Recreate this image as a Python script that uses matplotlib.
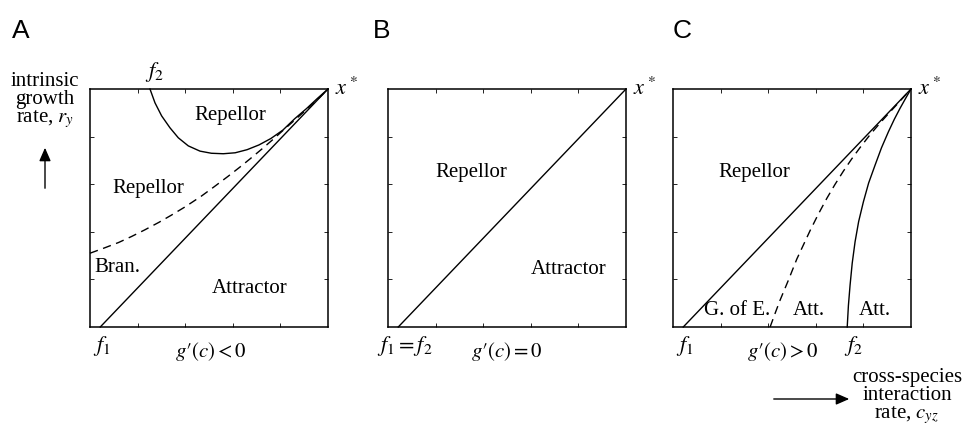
import numpy as np
import matplotlib
matplotlib.use("Agg")
import matplotlib.pyplot as plt
from matplotlib.patches import FancyArrowPatch

plt.rcParams['font.family'] = ['Liberation Serif', 'DejaVu Serif']
plt.rcParams['mathtext.fontset'] = 'stix'

# boundary curves, in units of the square (0..1 on both axes)
f1 = 0.043
diag_x = [f1, 1.0]
diag_y = [0.0, 1.0]

# panel A: g'(c) < 0
a_upper_x = [0.252, 0.273, 0.301, 0.336, 0.371, 0.413, 0.462, 0.51, 0.56,
             0.61, 0.66, 0.71, 0.76, 0.81, 0.86, 0.91, 0.955, 1.0]
a_upper_y = [1.0, 0.942, 0.887, 0.837, 0.795, 0.761, 0.739, 0.73, 0.728,
             0.732, 0.745, 0.765, 0.792, 0.827, 0.875, 0.918, 0.96, 1.0]
a_dash_x = [0.0, 0.06, 0.12, 0.174, 0.23, 0.29, 0.342, 0.4, 0.468, 0.52, 0.58,
            0.63, 0.672, 0.72, 0.77, 0.81, 0.854, 0.9, 0.938, 0.97, 1.0]
a_dash_y = [0.31, 0.332, 0.355, 0.38, 0.408, 0.44, 0.47, 0.505, 0.55, 0.588,
            0.633, 0.672, 0.706, 0.746, 0.789, 0.825, 0.864, 0.905, 0.94,
            0.97, 1.0]

# panel C: g'(c) > 0
c_dash_x = [0.408, 0.43, 0.45, 0.485, 0.52, 0.548, 0.576, 0.61, 0.646, 0.68,
            0.716, 0.75, 0.786, 0.828, 0.87, 0.905, 0.94, 0.97, 1.0]
c_dash_y = [0.0, 0.06, 0.113, 0.197, 0.285, 0.345, 0.405, 0.473, 0.54, 0.598,
            0.655, 0.705, 0.754, 0.808, 0.857, 0.896, 0.934, 0.967, 1.0]
c_solid_x = [0.732, 0.737, 0.744, 0.753, 0.765, 0.78, 0.80, 0.822, 0.849,
             0.876, 0.905, 0.93, 0.954, 0.977, 1.0]
c_solid_y = [0.0, 0.09, 0.176, 0.268, 0.358, 0.443, 0.526, 0.605, 0.68,
             0.753, 0.82, 0.873, 0.919, 0.96, 1.0]

W, H = 968, 433
fig = plt.figure(figsize=(W / 100, H / 100), dpi=100)


def px(x, y):
    return x / W, 1 - y / H


def box(left):
    ax = fig.add_axes([left / W, (H - 327) / H, 238 / W, 238 / H])
    ax.set_xlim(0, 1)
    ax.set_ylim(0, 1)
    t = [0.2, 0.4, 0.6, 0.8]
    ax.set_xticks(t)
    ax.set_yticks(t)
    ax.tick_params(direction='in', length=3, width=0.6, top=True, right=True,
                   labelbottom=False, labelleft=False)
    for s in ax.spines.values():
        s.set_linewidth(1.1)
    return ax


fs = 15
ms = 16
kw = dict(color='black', lw=1.0, clip_on=False)
dash = (0, (6, 4))

# A
ax = box(90)
ax.plot(diag_x, diag_y, **kw)
ax.plot(a_upper_x, a_upper_y, **kw)
ax.plot(a_dash_x, a_dash_y, ls=dash, **kw)
ax.text(0.59, 0.89, 'Repellor', fontsize=fs, ha='center', va='center')
ax.text(0.245, 0.58, 'Repellor', fontsize=fs, ha='center', va='center')
ax.text(0.115, 0.248, 'Bran.', fontsize=fs, ha='center', va='center')
ax.text(0.67, 0.16, 'Attractor', fontsize=fs, ha='center', va='center')
ax.text(0.27, 1.07, r'$f_2$', fontsize=ms, ha='center', va='center')
ax.text(1.03, 1.0, r'$x^*$', fontsize=ms, ha='left', va='center')
ax.text(0.05, -0.08, r'$f_1$', fontsize=ms, ha='center', va='center')
ax.text(0.51, -0.105, r"$g′(c) < 0$", fontsize=fs, ha='center', va='center')

# B
ax = box(388)
ax.plot(diag_x, diag_y, **kw)
ax.text(0.35, 0.65, 'Repellor', fontsize=fs, ha='center', va='center')
ax.text(0.76, 0.24, 'Attractor', fontsize=fs, ha='center', va='center')
ax.text(1.03, 1.0, r'$x^*$', fontsize=ms, ha='left', va='center')
ax.text(0.07, -0.08, r'$f_1 = f_2$', fontsize=ms, ha='center', va='center')
ax.text(0.50, -0.105, r"$g′(c) = 0$", fontsize=fs, ha='center', va='center')

# C
ax = box(673)
ax.plot(diag_x, diag_y, **kw)
ax.plot(c_solid_x, c_solid_y, **kw)
ax.plot(c_dash_x, c_dash_y, ls=dash, **kw)
ax.text(0.34, 0.65, 'Repellor', fontsize=fs, ha='center', va='center')
ax.text(0.27, 0.07, 'G. of E.', fontsize=fs, ha='center', va='center')
ax.text(0.57, 0.07, 'Att.', fontsize=fs, ha='center', va='center')
ax.text(0.85, 0.07, 'Att.', fontsize=fs, ha='center', va='center')
ax.text(1.03, 1.0, r'$x^*$', fontsize=ms, ha='left', va='center')
ax.text(0.05, -0.08, r'$f_1$', fontsize=ms, ha='center', va='center')
ax.text(0.46, -0.105, r"$g′(c) > 0$", fontsize=fs, ha='center', va='center')
ax.text(0.76, -0.08, r'$f_2$', fontsize=ms, ha='center', va='center')

# panel letters
for lab, x in [('A', 12), ('B', 373), ('C', 673)]:
    fig.text(*px(x, 31), lab, fontsize=19, family='Liberation Sans',
             ha='left', va='center')

# axis descriptions with arrows
fig.text(*px(45, 101), 'intrinsic\ngrowth\nrate, $r_y$', fontsize=fs,
         ha='center', va='center', linespacing=0.95)
fig.add_artist(FancyArrowPatch(
    px(45, 191), px(45, 145), transform=fig.transFigure,
    arrowstyle='-|>,head_length=8,head_width=3.5', color='black', lw=1.0))

fig.text(*px(907, 397), 'cross-species\ninteraction\nrate, $c_{yz}$',
         fontsize=fs, ha='center', va='center', linespacing=0.95)
fig.add_artist(FancyArrowPatch(
    px(771, 399), px(852, 399), transform=fig.transFigure,
    arrowstyle='-|>,head_length=8,head_width=3.5', color='black', lw=1.0))

fig.savefig('out.png', dpi=100)
